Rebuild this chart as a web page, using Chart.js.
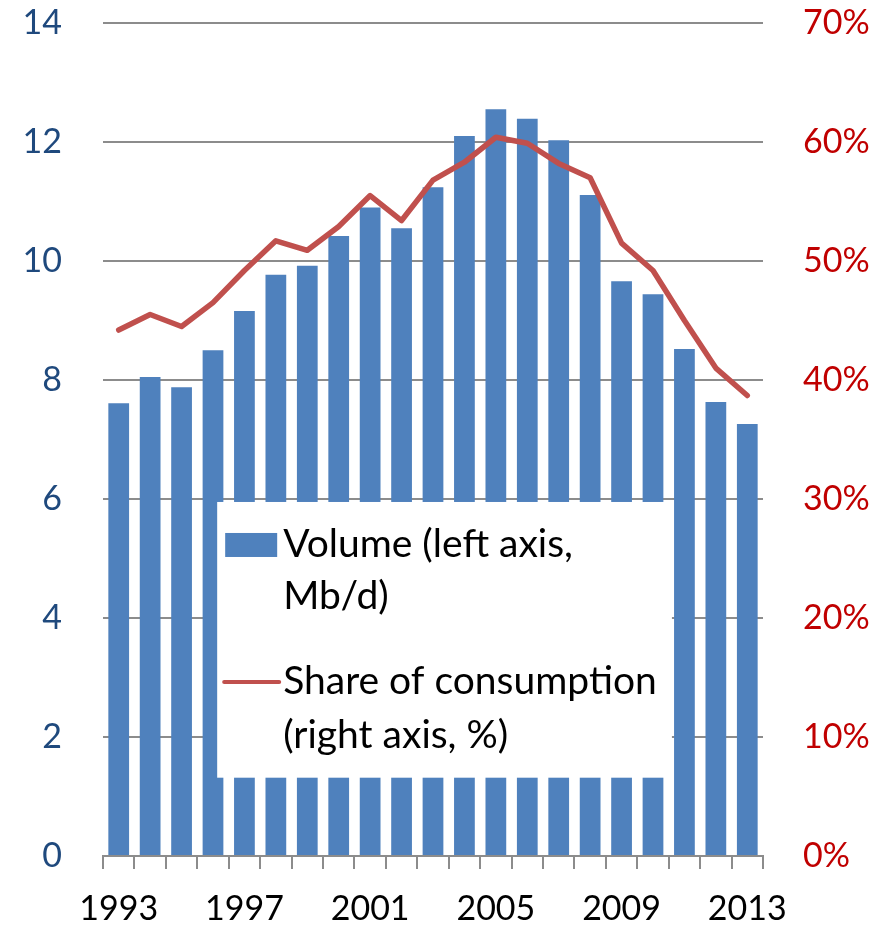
<!DOCTYPE html>
<html>
<head>
<meta charset="utf-8">
<script src="https://cdn.jsdelivr.net/npm/chart.js@4"></script>
<style>
  html, body { margin: 0; padding: 0; background: #fff; }
  #wrap { width: 895px; height: 925px; }
</style>
</head>
<body>
<div id="wrap"><canvas id="chart" width="895" height="925"></canvas></div>
<script>
// data
const years = ['1993','1994','1995','1996','1997','1998','1999','2000','2001','2002','2003',
  '2004','2005','2006','2007','2008','2009','2010','2011','2012','2013'];
const volume = [7.61, 8.05, 7.88, 8.5, 9.16, 9.77, 9.92, 10.42, 10.9, 10.55, 11.24,
  12.1, 12.55, 12.39, 12.03, 11.11, 9.66, 9.44, 8.52, 7.63, 7.26];
const share = [44.2, 45.5, 44.5, 46.5, 49.2, 51.7, 50.9, 52.9, 55.5, 53.4, 56.8,
  58.3, 60.4, 59.9, 58.2, 57.0, 51.5, 49.2, 45.0, 41.0, 38.7];
const leftTicks = [0, 2, 4, 6, 8, 10, 12, 14];
const rightTicks = [0, 10, 20, 30, 40, 50, 60, 70];

const BLUE = '#4F81BD';
const RED = '#C0504D';
const FONT = 'Lato';

// white legend box sitting inside the plot
const boxLegend = {
  id: 'boxLegend',
  afterDatasetsDraw(chart) {
    const { ctx, chartArea: a } = chart;
    const w = a.right - a.left, h = a.bottom - a.top;
    const x0 = a.left + w * 0.173, x1 = a.left + w * 0.862;
    const y0 = a.top + h * 0.575, y1 = a.top + h * 0.906;
    ctx.save();
    ctx.fillStyle = '#fff';
    ctx.fillRect(x0, y0, x1 - x0, y1 - y0);

    ctx.fillStyle = BLUE;
    ctx.fillRect(x0 + 8, y0 + 31, 52, 24);

    ctx.strokeStyle = RED;
    ctx.lineWidth = 4;
    ctx.lineCap = 'round';
    ctx.beginPath();
    ctx.moveTo(x0 + 7, y0 + 180);
    ctx.lineTo(x0 + 62, y0 + 180);
    ctx.stroke();

    ctx.fillStyle = '#000';
    ctx.font = '39px ' + FONT;
    ctx.textBaseline = 'alphabetic';
    const tx = x0 + 66;
    ctx.fillText('Volume (left axis,', tx, y0 + 55);
    ctx.fillText('Mb/d)', tx, y0 + 107);
    ctx.fillText('Share of consumption', tx, y0 + 192);
    ctx.fillText('(right axis, %)', tx, y0 + 246);
    ctx.restore();
  }
};

new Chart(document.getElementById('chart'), {
  type: 'bar',
  data: {
    labels: years,
    datasets: [
      {
        type: 'line',
        label: 'Share of consumption (right axis, %)',
        data: share,
        yAxisID: 'y1',
        borderColor: RED,
        borderWidth: 5.5,
        pointRadius: 0,
        tension: 0,
        borderJoinStyle: 'round',
        borderCapStyle: 'round',
        order: 0
      },
      {
        label: 'Volume (left axis, Mb/d)',
        data: volume,
        yAxisID: 'y',
        backgroundColor: BLUE,
        barPercentage: 1,
        categoryPercentage: 0.66,
        order: 1
      }
    ]
  },
  options: {
    responsive: false,
    animation: false,
    layout: { padding: { top: 23 } },
    plugins: { legend: { display: false }, tooltip: { enabled: false } },
    scales: {
      x: {
        grid: { drawOnChartArea: false, drawTicks: true, tickLength: 13, color: '#8c8c8c', lineWidth: 2, offset: true },
        border: { display: true, color: '#8c8c8c', width: 2 },
        ticks: {
          autoSkip: false, maxRotation: 0, color: '#000', padding: 20,
          font: { family: FONT, size: 34 },
          callback: (v, i) => (i % 4 === 0 ? years[i] : '')
        },
        afterFit: (s) => { s.height = 69; }
      },
      y: {
        position: 'left',
        min: leftTicks[0], max: leftTicks[leftTicks.length - 1],
        afterBuildTicks: (s) => { s.ticks = leftTicks.map((v) => ({ value: v })); },
        grid: { color: '#8c8c8c', lineWidth: 2, drawTicks: false },
        border: { display: false },
        ticks: { color: '#1F497D', padding: 41, font: { family: FONT, size: 34, lineHeight: 1 } },
        afterFit: (s) => { s.width = 103; s.paddingTop = 0; s.paddingBottom = 0; }
      },
      y1: {
        position: 'right',
        min: rightTicks[0], max: rightTicks[rightTicks.length - 1],
        afterBuildTicks: (s) => { s.ticks = rightTicks.map((v) => ({ value: v })); },
        grid: { display: false, drawTicks: false },
        border: { display: false },
        ticks: { color: '#C00000', padding: 40, font: { family: FONT, size: 34, lineHeight: 1 }, callback: (v) => v + '%' },
        afterFit: (s) => { s.width = 132; s.paddingTop = 0; s.paddingBottom = 0; }
      }
    }
  },
  plugins: [boxLegend]
});
</script>
</body>
</html>
